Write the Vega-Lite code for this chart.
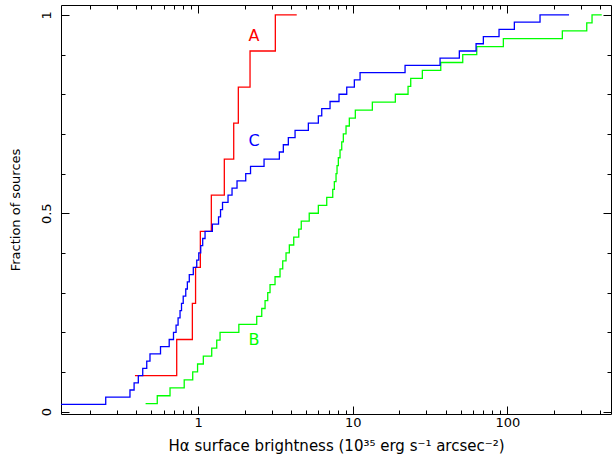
{
  "$schema": "https://vega.github.io/schema/vega-lite/v6.json",
  "width": 550,
  "height": 409,
  "autosize": "none",
  "padding": {"left": 61, "top": 5, "right": 1, "bottom": 47},
  "background": "white",
  "config": {
    "view": {"stroke": "black", "strokeWidth": 1},
    "axis": {"domain": false, "grid": false, "tickColor": "black", "tickWidth": 1, "labelFont": "DejaVu Sans", "labelFontSize": 13, "labelColor": "black", "titleFont": "DejaVu Sans", "titleFontSize": 13, "titleFontWeight": "normal", "titleColor": "black"}
  },
  "datasets": {
    "cdf": [
      {"s": "A", "x": 0.391, "y": 0.0909},
      {"s": "A", "x": 0.728, "y": 0.1818},
      {"s": "A", "x": 0.919, "y": 0.2727},
      {"s": "A", "x": 0.964, "y": 0.3636},
      {"s": "A", "x": 1.035, "y": 0.4545},
      {"s": "A", "x": 1.219, "y": 0.5455},
      {"s": "A", "x": 1.479, "y": 0.6364},
      {"s": "A", "x": 1.701, "y": 0.7273},
      {"s": "A", "x": 1.822, "y": 0.8182},
      {"s": "A", "x": 2.169, "y": 0.9091},
      {"s": "A", "x": 3.161, "y": 1.0},
      {"s": "A", "x": 4.347, "y": 1.0},
      {"s": "B", "x": 0.458, "y": 0.02},
      {"s": "B", "x": 0.545, "y": 0.04},
      {"s": "B", "x": 0.659, "y": 0.06},
      {"s": "B", "x": 0.814, "y": 0.08},
      {"s": "B", "x": 0.924, "y": 0.10},
      {"s": "B", "x": 0.993, "y": 0.12},
      {"s": "B", "x": 1.082, "y": 0.14},
      {"s": "B", "x": 1.226, "y": 0.16},
      {"s": "B", "x": 1.321, "y": 0.18},
      {"s": "B", "x": 1.388, "y": 0.20},
      {"s": "B", "x": 1.836, "y": 0.22},
      {"s": "B", "x": 2.396, "y": 0.24},
      {"s": "B", "x": 2.582, "y": 0.26},
      {"s": "B", "x": 2.713, "y": 0.28},
      {"s": "B", "x": 2.823, "y": 0.30},
      {"s": "B", "x": 2.921, "y": 0.32},
      {"s": "B", "x": 3.147, "y": 0.34},
      {"s": "B", "x": 3.390, "y": 0.36},
      {"s": "B", "x": 3.529, "y": 0.38},
      {"s": "B", "x": 3.707, "y": 0.40},
      {"s": "B", "x": 3.894, "y": 0.42},
      {"s": "B", "x": 4.157, "y": 0.44},
      {"s": "B", "x": 4.479, "y": 0.46},
      {"s": "B", "x": 4.650, "y": 0.48},
      {"s": "B", "x": 5.236, "y": 0.50},
      {"s": "B", "x": 5.997, "y": 0.52},
      {"s": "B", "x": 6.795, "y": 0.54},
      {"s": "B", "x": 7.430, "y": 0.56},
      {"s": "B", "x": 7.609, "y": 0.58},
      {"s": "B", "x": 7.804, "y": 0.60},
      {"s": "B", "x": 7.921, "y": 0.62},
      {"s": "B", "x": 8.076, "y": 0.64},
      {"s": "B", "x": 8.283, "y": 0.66},
      {"s": "B", "x": 8.495, "y": 0.68},
      {"s": "B", "x": 8.700, "y": 0.70},
      {"s": "B", "x": 9.057, "y": 0.72},
      {"s": "B", "x": 9.513, "y": 0.74},
      {"s": "B", "x": 10.40, "y": 0.76},
      {"s": "B", "x": 13.40, "y": 0.78},
      {"s": "B", "x": 18.87, "y": 0.80},
      {"s": "B", "x": 22.80, "y": 0.82},
      {"s": "B", "x": 23.73, "y": 0.84},
      {"s": "B", "x": 28.21, "y": 0.86},
      {"s": "B", "x": 37.11, "y": 0.88},
      {"s": "B", "x": 51.47, "y": 0.90},
      {"s": "B", "x": 63.42, "y": 0.92},
      {"s": "B", "x": 94.23, "y": 0.94},
      {"s": "B", "x": 226.8, "y": 0.96},
      {"s": "B", "x": 326.2, "y": 0.98},
      {"s": "B", "x": 352.9, "y": 1.0},
      {"s": "B", "x": 407.8, "y": 1.0},
      {"s": "C", "x": 0.13, "y": 0.0182},
      {"s": "C", "x": 0.253, "y": 0.0364},
      {"s": "C", "x": 0.363, "y": 0.0545},
      {"s": "C", "x": 0.386, "y": 0.0727},
      {"s": "C", "x": 0.411, "y": 0.0909},
      {"s": "C", "x": 0.439, "y": 0.1091},
      {"s": "C", "x": 0.466, "y": 0.1273},
      {"s": "C", "x": 0.489, "y": 0.1455},
      {"s": "C", "x": 0.572, "y": 0.1636},
      {"s": "C", "x": 0.651, "y": 0.1818},
      {"s": "C", "x": 0.694, "y": 0.2},
      {"s": "C", "x": 0.721, "y": 0.2182},
      {"s": "C", "x": 0.743, "y": 0.2364},
      {"s": "C", "x": 0.765, "y": 0.2545},
      {"s": "C", "x": 0.782, "y": 0.2727},
      {"s": "C", "x": 0.802, "y": 0.2909},
      {"s": "C", "x": 0.833, "y": 0.3091},
      {"s": "C", "x": 0.853, "y": 0.3273},
      {"s": "C", "x": 0.878, "y": 0.3455},
      {"s": "C", "x": 0.932, "y": 0.3636},
      {"s": "C", "x": 0.981, "y": 0.3818},
      {"s": "C", "x": 1.011, "y": 0.4},
      {"s": "C", "x": 1.041, "y": 0.4182},
      {"s": "C", "x": 1.072, "y": 0.4364},
      {"s": "C", "x": 1.110, "y": 0.4545},
      {"s": "C", "x": 1.238, "y": 0.4727},
      {"s": "C", "x": 1.357, "y": 0.4909},
      {"s": "C", "x": 1.398, "y": 0.5091},
      {"s": "C", "x": 1.440, "y": 0.5273},
      {"s": "C", "x": 1.563, "y": 0.5455},
      {"s": "C", "x": 1.659, "y": 0.5636},
      {"s": "C", "x": 1.787, "y": 0.5818},
      {"s": "C", "x": 2.034, "y": 0.6},
      {"s": "C", "x": 2.185, "y": 0.6182},
      {"s": "C", "x": 2.672, "y": 0.6364},
      {"s": "C", "x": 3.356, "y": 0.6545},
      {"s": "C", "x": 3.561, "y": 0.6727},
      {"s": "C", "x": 3.836, "y": 0.6909},
      {"s": "C", "x": 4.240, "y": 0.7091},
      {"s": "C", "x": 5.168, "y": 0.7273},
      {"s": "C", "x": 5.997, "y": 0.7455},
      {"s": "C", "x": 6.308, "y": 0.7636},
      {"s": "C", "x": 7.138, "y": 0.7818},
      {"s": "C", "x": 8.158, "y": 0.8},
      {"s": "C", "x": 9.153, "y": 0.8182},
      {"s": "C", "x": 10.25, "y": 0.8364},
      {"s": "C", "x": 11.16, "y": 0.8545},
      {"s": "C", "x": 21.81, "y": 0.8727},
      {"s": "C", "x": 36.72, "y": 0.8909},
      {"s": "C", "x": 48.93, "y": 0.9091},
      {"s": "C", "x": 62.77, "y": 0.9273},
      {"s": "C", "x": 69.97, "y": 0.9455},
      {"s": "C", "x": 88.37, "y": 0.9636},
      {"s": "C", "x": 111.0, "y": 0.9818},
      {"s": "C", "x": 162.7, "y": 1.0},
      {"s": "C", "x": 250.6, "y": 1.0}
    ],
    "labels": [
      {"s": "A", "x": 2.30, "y": 0.947},
      {"s": "B", "x": 2.30, "y": 0.181},
      {"s": "C", "x": 2.30, "y": 0.681}
    ],
    "ax": [{"x": 1, "y": 0.5}]
  },
  "layer": [
    {
      "data": {"name": "cdf"},
      "mark": {"type": "line", "interpolate": "step-after", "strokeWidth": 1.3},
      "encoding": {
        "x": {"field": "x", "type": "quantitative", "scale": {"type": "log", "domain": [0.13, 468], "nice": false},
          "axis": {"orient": "bottom", "values": [1, 10, 100], "format": "d", "tickSize": -8, "labelPadding": 10, "labelFlush": false,
            "title": "Hα surface brightness (10³⁵ erg s⁻¹ arcsec⁻²)", "titleFontSize": 15, "titlePadding": 9}},
        "y": {"field": "y", "type": "quantitative", "scale": {"domain": [-0.006, 1.025], "nice": false, "zero": false},
          "axis": {"orient": "left", "values": [0, 0.5, 1], "format": "~g", "tickSize": -8, "labelAngle": -90, "labelPadding": 16, "labelFlush": false,
            "title": "Fraction of sources", "titlePadding": 18}},
        "color": {"field": "s", "type": "nominal", "scale": {"domain": ["A", "B", "C"], "range": ["#ff0000", "#00ff00", "#0000ff"]}, "legend": null}
      }
    },
    {
      "data": {"name": "ax"},
      "mark": {"type": "point", "opacity": 0},
      "encoding": {
        "x": {"field": "x", "type": "quantitative",
          "axis": {"orient": "bottom", "values": [0.2, 0.3, 0.4, 0.5, 0.6, 0.7, 0.8, 0.9, 2, 3, 4, 5, 6, 7, 8, 9, 20, 30, 40, 50, 60, 70, 80, 90, 200, 300, 400], "tickSize": -4, "labels": false, "title": null}},
        "y": {"field": "y", "type": "quantitative",
          "axis": {"orient": "left", "values": [0.1, 0.2, 0.3, 0.4, 0.6, 0.7, 0.8, 0.9], "tickSize": -4, "labels": false, "title": null}}
      }
    },
    {
      "data": {"name": "ax"},
      "mark": {"type": "point", "opacity": 0},
      "encoding": {
        "x": {"field": "x", "type": "quantitative",
          "axis": {"orient": "top", "values": [1, 10, 100], "tickSize": -8, "labels": false, "title": null}},
        "y": {"field": "y", "type": "quantitative",
          "axis": {"orient": "right", "values": [0, 0.5, 1], "tickSize": -8, "labels": false, "title": null}}
      }
    },
    {
      "data": {"name": "ax"},
      "mark": {"type": "point", "opacity": 0},
      "encoding": {
        "x": {"field": "x", "type": "quantitative",
          "axis": {"orient": "top", "values": [0.2, 0.3, 0.4, 0.5, 0.6, 0.7, 0.8, 0.9, 2, 3, 4, 5, 6, 7, 8, 9, 20, 30, 40, 50, 60, 70, 80, 90, 200, 300, 400], "tickSize": -4, "labels": false, "title": null}},
        "y": {"field": "y", "type": "quantitative",
          "axis": {"orient": "right", "values": [0.1, 0.2, 0.3, 0.4, 0.6, 0.7, 0.8, 0.9], "tickSize": -4, "labels": false, "title": null}}
      }
    },
    {
      "data": {"name": "labels"},
      "mark": {"type": "text", "font": "DejaVu Sans", "fontSize": 16, "align": "center", "baseline": "middle"},
      "encoding": {
        "x": {"field": "x", "type": "quantitative", "axis": null},
        "y": {"field": "y", "type": "quantitative", "axis": null},
        "text": {"field": "s"},
        "color": {"field": "s", "type": "nominal", "legend": null}
      }
    }
  ],
  "resolve": {"axis": {"x": "independent", "y": "independent"}}
}
